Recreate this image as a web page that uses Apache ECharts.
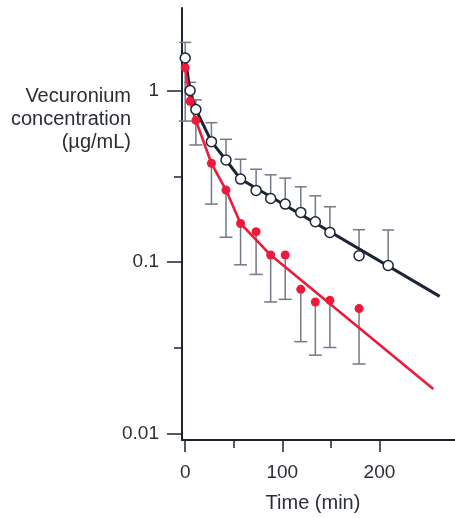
<!DOCTYPE html>
<html>
<head>
<meta charset="utf-8">
<script src="https://cdn.jsdelivr.net/npm/echarts@6/dist/echarts.min.js"></script>
<style>
html,body{margin:0;padding:0;background:#fff;}
#chart{width:455px;height:518px;}
</style>
</head>
<body>
<div id="chart"></div>
<script>
// ---- data ----
const times = [0, 5, 11, 27, 42, 57, 73, 88, 103, 119, 134, 149, 179, 209];
const openConc = [1.55, 1.0, 0.776, 0.504, 0.394, 0.305, 0.262, 0.235, 0.218, 0.195, 0.172, 0.149, 0.109, 0.0956];
const openUpper = [1.91, 1.117, 0.883, 0.65, 0.52, 0.398, 0.348, 0.323, 0.309, 0.275, 0.2436, 0.2103, 0.1546, 0.154];
const redConc = [1.36, 0.867, 0.67, 0.377, 0.263, 0.168, 0.1506, 0.110, 0.110, 0.0694, 0.0586, 0.0599, 0.0536, null];
const redLower = [0.664, null, 0.482, 0.218, 0.1397, 0.0965, 0.0848, 0.0586, 0.0607, 0.0344, 0.0287, 0.0318, 0.0255, null];
const openFitT = [0, 5, 11, 27, 42, 57, 262];
const openFitC = [1.55, 1.0, 0.776, 0.504, 0.394, 0.305, 0.0632];
const redFitT = [0, 5, 11, 27, 42, 57, 88, 255.5];
const redFitC = [1.36, 0.867, 0.67, 0.377, 0.263, 0.168, 0.110, 0.0182];
const xMajorTicks = [0, 100, 200];
const xMinorTicks = [50, 150];
const yMajorTicks = [0.01, 0.1, 1];
const yMinorTicks = [0.0316, 0.316];
const yAxisTitle = 'Vecuronium\nconcentration\n(\u00b5g/mL)';
const xAxisTitle = 'Time (min)';

// ---- styling ----
const FONT = '"Liberation Sans", Arial, Helvetica, sans-serif';
const FS = 19;
const FS_TITLE = 20;
const AXIS_COLOR = '#1d2430';
const TEXT_COLOR = '#2a2e35';
const BLACK = '#1c2535';
const RED = '#ec1a3b';
const ERR = '#737985';
const X_MIN = -3.3, X_MAX = 277.8;
const Y_MIN = 0.00919, Y_MAX = 3.03;

const pairs = (a, b) => a.map((v, i) => [v, b[i]]).filter(p => p[1] != null);
const errData = (c, e) => times.map((t, i) => [t, c[i], e[i]]).filter(p => p[1] != null && p[2] != null);

function errRender(capHalf) {
  return function (params, api) {
    const x = api.value(0), y = api.value(1), e = api.value(2);
    const p1 = api.coord([x, y]);
    const p2 = api.coord([x, e]);
    const st = { stroke: ERR, lineWidth: 1.5, fill: null };
    return {
      type: 'group',
      children: [
        { type: 'line', shape: { x1: p1[0], y1: p1[1], x2: p2[0], y2: p2[1] }, style: st },
        { type: 'line', shape: { x1: p2[0] - capHalf, y1: p2[1], x2: p2[0] + capHalf, y2: p2[1] }, style: st }
      ]
    };
  };
}

const chart = echarts.init(document.getElementById('chart'), null, { renderer: 'canvas' });
const option = {
  animation: false,
  backgroundColor: '#ffffff',
  grid: { left: 182, right: 0, top: 8, bottom: 76, containLabel: false },
  graphic: [{
    type: 'text',
    x: 131, y: 119.5,
    style: {
      text: yAxisTitle,
      x: 0, y: 0,
      textAlign: 'right',
      textVerticalAlign: 'middle',
      font: FS_TITLE + 'px ' + FONT,
      lineHeight: 23.3,
      fill: TEXT_COLOR
    }
  }],
  xAxis: [{
    type: 'value', min: X_MIN, max: X_MAX,
    axisLine: { show: true, onZero: false, lineStyle: { color: AXIS_COLOR, width: 2 } },
    axisTick: { show: true, length: 12, inside: false, customValues: xMajorTicks, lineStyle: { color: AXIS_COLOR, width: 1.5 } },
    axisLabel: { show: true, customValues: xMajorTicks, margin: 23, fontSize: FS, fontFamily: FONT, color: TEXT_COLOR },
    splitLine: { show: false },
    name: xAxisTitle, nameLocation: 'middle', nameGap: 53,
    nameTextStyle: { fontSize: FS_TITLE, fontFamily: FONT, color: TEXT_COLOR, padding: [0, 11, 0, 0] }
  }, {
    type: 'value', min: X_MIN, max: X_MAX, position: 'bottom',
    axisLine: { show: false, onZero: false },
    axisTick: { show: true, length: 8, customValues: xMinorTicks, lineStyle: { color: AXIS_COLOR, width: 1.5 } },
    axisLabel: { show: false },
    splitLine: { show: false }
  }],
  yAxis: [{
    type: 'log', logBase: 10, min: Y_MIN, max: Y_MAX,
    axisLine: { show: true, onZero: false, lineStyle: { color: AXIS_COLOR, width: 2 } },
    axisTick: { show: true, length: 15, customValues: yMajorTicks, lineStyle: { color: AXIS_COLOR, width: 1.5 } },
    axisLabel: { show: true, customValues: yMajorTicks, margin: 23, fontSize: FS, fontFamily: FONT, color: TEXT_COLOR,
      formatter: v => String(+Number(v).toPrecision(3)) },
    splitLine: { show: false }
  }, {
    type: 'log', logBase: 10, min: Y_MIN, max: Y_MAX, position: 'left',
    axisLine: { show: false, onZero: false },
    axisTick: { show: true, length: 8, customValues: yMinorTicks, lineStyle: { color: AXIS_COLOR, width: 1.5 } },
    axisLabel: { show: false },
    splitLine: { show: false }
  }],
  series: [
    { type: 'custom', name: 'openErr', xAxisIndex: 0, yAxisIndex: 0, renderItem: errRender(6), data: errData(openConc, openUpper), z: 1, silent: true },
    { type: 'custom', name: 'redErr', xAxisIndex: 0, yAxisIndex: 0, renderItem: errRender(6.5), data: errData(redConc, redLower), z: 1, silent: true },
    { type: 'line', name: 'openFit', data: pairs(openFitT, openFitC), showSymbol: false, symbol: 'none',
      lineStyle: { color: BLACK, width: 3 }, z: 2, silent: true },
    { type: 'line', name: 'redFit', data: pairs(redFitT, redFitC), showSymbol: false, symbol: 'none',
      lineStyle: { color: RED, width: 2.6 }, z: 3, silent: true },
    { type: 'scatter', name: 'red', data: pairs(times, redConc), symbol: 'circle', symbolSize: 9,
      itemStyle: { color: RED, opacity: 1 }, z: 4, silent: true },
    { type: 'scatter', name: 'open', data: pairs(times, openConc), symbol: 'circle', symbolSize: 10,
      itemStyle: { color: '#ffffff', borderColor: BLACK, borderWidth: 1.5, opacity: 1 }, z: 5, silent: true }
  ]
};
chart.setOption(option);
</script>
</body>
</html>
